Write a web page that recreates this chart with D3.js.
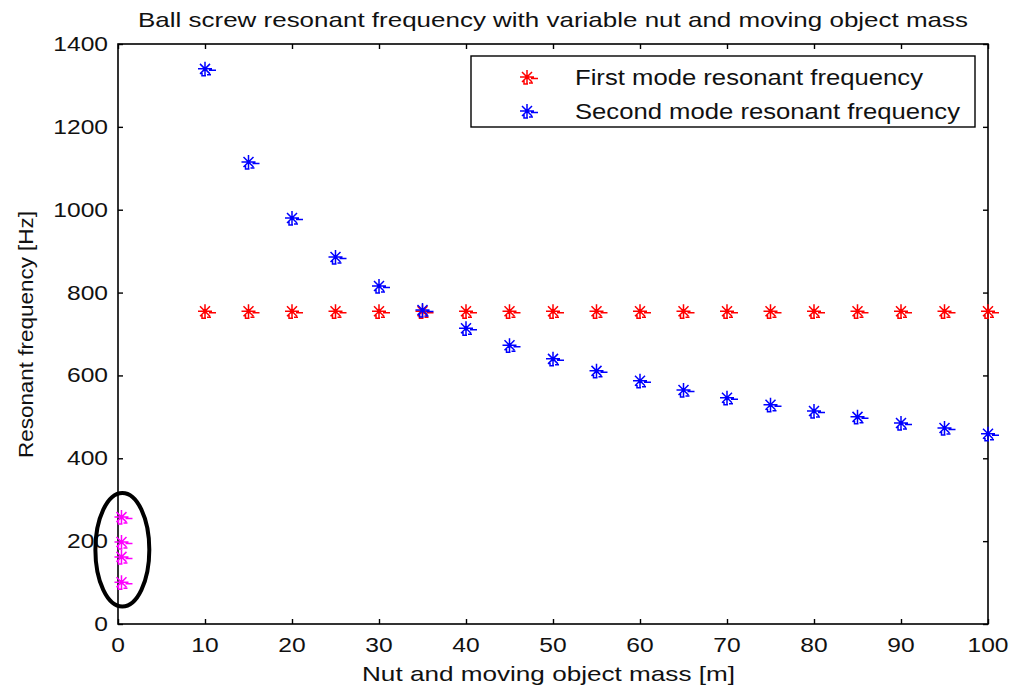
<!DOCTYPE html>
<html><head><meta charset="utf-8">
<script src="https://cdn.jsdelivr.net/npm/d3@7"></script>
<style>html,body{margin:0;padding:0;background:#fff;}svg{display:block;font-family:"Liberation Sans",Arial,sans-serif;}</style>
</head><body>
<script>
const titleText = "Ball screw resonant frequency with variable nut and moving object mass";
const xLabel = "Nut and moving object mass [m]";
const yLabel = "Resonant frequency [Hz]";
const legendLabels = ["First mode resonant frequency", "Second mode resonant frequency"];
const xTicks = [0,10,20,30,40,50,60,70,80,90,100];
const yTicks = [0,200,400,600,800,1000,1200,1400];
const massValues = [10,15,20,25,30,35,40,45,50,55,60,65,70,75,80,85,90,95,100];
const firstMode = [755,755,755,755,755,755,755,755,755,755,755,755,755,755,755,755,755,755,755];
const secondMode = [1340,1115,980,886,816,758,714,673,640,611,587,565,546,529,514,500,485,473,459];
const zeroMassX = [0.4,0.4,0.4,0.4];
const zeroMassY = [258,198,162,101];
const ellipseCenter = [0.5,179];
const ellipseRadii = [3.1,137];

const W=1010,H=688;
const svg=d3.select("body").append("svg").attr("width",W).attr("height",H);
const L=118,R=988,T=44,B=624;
const x=d3.scaleLinear().domain([0,100]).range([L,R]);
const y=d3.scaleLinear().domain([0,1400]).range([B,T]);
const SX=1.2; // horizontal stretch of text, as in the reference

// box
svg.append("rect").attr("x",L).attr("y",T).attr("width",R-L).attr("height",B-T)
  .attr("fill","none").attr("stroke","#000").attr("stroke-width",1.6);

const tk=5;
function styleTicks(g){ g.select(".domain").remove(); g.selectAll("line").attr("stroke","#000").attr("stroke-width",1.4); }
const gx=svg.append("g").attr("transform",`translate(0,${B})`)
  .call(d3.axisBottom(x).tickValues(xTicks).tickSize(-tk).tickFormat(""));
styleTicks(gx);
const gxt=svg.append("g").attr("transform",`translate(0,${T})`)
  .call(d3.axisTop(x).tickValues(xTicks).tickSize(-tk).tickFormat(""));
styleTicks(gxt);
const gy=svg.append("g").attr("transform",`translate(${L},0)`)
  .call(d3.axisLeft(y).tickValues(yTicks).tickSize(-tk).tickFormat(""));
styleTicks(gy);
const gyr=svg.append("g").attr("transform",`translate(${R},0)`)
  .call(d3.axisRight(y).tickValues(yTicks).tickSize(-tk).tickFormat(""));
styleTicks(gyr);

// tick labels (stretched horizontally)
svg.append("g").selectAll("text").data(xTicks).join("text")
  .attr("transform",d=>`translate(${x(d)},652) scale(${SX},1)`)
  .attr("text-anchor","middle").attr("font-size",20.5).attr("fill","#111").text(d=>d);
svg.append("g").selectAll("text").data(yTicks).join("text")
  .attr("transform",d=>`translate(108,${y(d)+7}) scale(${SX},1)`)
  .attr("text-anchor","end").attr("font-size",20.5).attr("fill","#111").text(d=>d);

// star marker
function starPath(){
  const r=7,d=5;
  return `M${-r},0H${r}M0,${-r}V${r}M${-d},${-d}L${d},${d}M${-d},${d}L${d},${-d}`+
         `M4,1.5H11M-3,3V7H1M2,6H6`;
}
function drawMarkers(xs,ys,color){
  svg.append("g").selectAll("path").data(xs.map((v,i)=>[v,ys[i]])).join("path")
    .attr("transform",d=>`translate(${x(d[0])},${y(d[1])})`)
    .attr("d",starPath()).attr("fill","none").attr("stroke",color).attr("stroke-width",1.5);
}
drawMarkers(massValues,firstMode,"#ff0000");
drawMarkers(massValues,secondMode,"#0000ff");
drawMarkers(zeroMassX,zeroMassY,"#ff00ff");

// ellipse
svg.append("ellipse").attr("cx",x(ellipseCenter[0])).attr("cy",y(ellipseCenter[1]))
  .attr("rx",x(ellipseRadii[0])-x(0)).attr("ry",y(0)-y(ellipseRadii[1]))
  .attr("fill","none").attr("stroke","#000").attr("stroke-width",4);

// legend
const lg=svg.append("g");
lg.append("rect").attr("x",471).attr("y",56).attr("width",504).attr("height",71)
  .attr("fill","#fff").attr("stroke","#000").attr("stroke-width",1.4);
const legColors=["#ff0000","#0000ff"];
const legLens=[348,385];
legendLabels.forEach((t,i)=>{
  const yy=77+i*34;
  lg.append("path").attr("transform",`translate(527,${yy})`).attr("d",starPath())
    .attr("fill","none").attr("stroke",legColors[i]).attr("stroke-width",1.5);
  lg.append("text").attr("x",575).attr("y",yy+8).attr("font-size",22).attr("fill","#111")
    .attr("textLength",legLens[i]).attr("lengthAdjust","spacingAndGlyphs").text(t);
});

// title and labels
svg.append("text").attr("x",553).attr("y",27).attr("text-anchor","middle").attr("font-size",21)
  .attr("textLength",830).attr("lengthAdjust","spacingAndGlyphs").attr("fill","#111").text(titleText);
svg.append("text").attr("x",362).attr("y",681).attr("font-size",21)
  .attr("textLength",373).attr("lengthAdjust","spacingAndGlyphs").attr("fill","#111").text(xLabel);
svg.append("text").attr("transform","translate(33,458) rotate(-90)")
  .attr("font-size",20).attr("textLength",247).attr("lengthAdjust","spacingAndGlyphs")
  .attr("fill","#111").text(yLabel);
</script>
</body></html>
